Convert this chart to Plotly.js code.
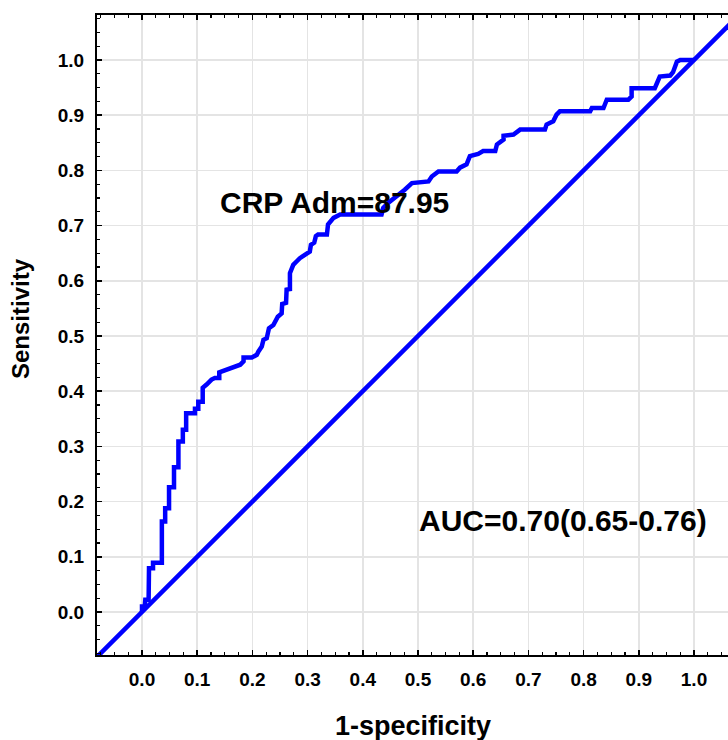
<!DOCTYPE html>
<html>
<head>
<meta charset="utf-8">
<script src="https://cdn.plot.ly/plotly-3.0.1.min.js"></script>
<style>html,body{margin:0;padding:0;background:#fff;}#chart{width:728px;height:740px;}</style>
</head>
<body>
<div id="chart"></div>
<script>
// ROC curve
const fpr = [0.0, 0.0, 0.005, 0.006, 0.012, 0.0127, 0.02, 0.02, 0.036, 0.036, 0.042, 0.042, 0.049, 0.049,
  0.058, 0.058, 0.066, 0.066, 0.074, 0.074, 0.08, 0.08, 0.096, 0.096, 0.102, 0.102, 0.11, 0.11, 0.117,
  0.126, 0.132, 0.14, 0.14, 0.153, 0.163, 0.171, 0.178, 0.184, 0.184, 0.199, 0.208, 0.211, 0.217, 0.22,
  0.226, 0.23, 0.238, 0.246, 0.253, 0.254, 0.261, 0.262, 0.268, 0.268, 0.274, 0.28, 0.286, 0.295, 0.304,
  0.306, 0.312, 0.315, 0.319, 0.335, 0.337, 0.347, 0.359, 0.434, 0.437, 0.447, 0.458, 0.467, 0.476,
  0.489, 0.519, 0.525, 0.537, 0.570, 0.576, 0.588, 0.594, 0.609, 0.618, 0.640, 0.643, 0.655, 0.655,
  0.673, 0.685, 0.730, 0.733, 0.745, 0.751, 0.757, 0.812, 0.815, 0.836, 0.842, 0.881, 0.887, 0.887,
  0.929, 0.938, 0.957, 0.962, 0.969, 0.975, 1.0];
const tpr = [0.0, 0.01, 0.01, 0.022, 0.022, 0.079, 0.079, 0.089, 0.089, 0.164, 0.164, 0.188, 0.188, 0.226,
  0.226, 0.262, 0.262, 0.309, 0.309, 0.33, 0.33, 0.36, 0.36, 0.368, 0.368, 0.381, 0.381, 0.406, 0.412,
  0.421, 0.424, 0.424, 0.434, 0.439, 0.442, 0.445, 0.448, 0.454, 0.461, 0.461, 0.466, 0.472, 0.481, 0.493,
  0.496, 0.514, 0.52, 0.535, 0.541, 0.558, 0.56, 0.584, 0.585, 0.614, 0.629, 0.635, 0.641, 0.647, 0.653,
  0.665, 0.669, 0.681, 0.684, 0.684, 0.702, 0.714, 0.72, 0.72, 0.732, 0.742, 0.75, 0.756, 0.765,
  0.777, 0.78, 0.789, 0.798, 0.798, 0.805, 0.811, 0.826, 0.830, 0.835, 0.835, 0.847, 0.856, 0.863,
  0.865, 0.874, 0.874, 0.883, 0.889, 0.901, 0.907, 0.907, 0.913, 0.913, 0.928, 0.928, 0.934, 0.949,
  0.949, 0.970, 0.972, 0.978, 0.997, 1.0, 1.0];
const diagX = [-0.1, 1.1];
const diagY = [-0.1, 1.1];
const tickVals = [0, 0.1, 0.2, 0.3, 0.4, 0.5, 0.6, 0.7, 0.8, 0.9, 1.0];
const tickText = ['0.0', '0.1', '0.2', '0.3', '0.4', '0.5', '0.6', '0.7', '0.8', '0.9', '1.0'];
const xTitle = '1-specificity';
const yTitle = 'Sensitivity';
const labelCRP = 'CRP Adm=87.95';
const labelAUC = 'AUC=0.70(0.65-0.76)';

const FONT = '"Liberation Sans", Arial, sans-serif';
const BLUE = '#0000ff';

const traces = [
  {x: diagX, y: diagY, mode: 'lines', line: {color: BLUE, width: 4.5}, hoverinfo: 'skip', showlegend: false},
  {x: fpr, y: tpr, mode: 'lines', line: {color: BLUE, width: 4.5}, showlegend: false}
];

function axis(extra) {
  return Object.assign({
    tickmode: 'array', tickvals: tickVals, ticktext: tickText,
    ticks: 'inside', ticklen: 5, tickwidth: 1.5, tickcolor: '#000',
    showline: true, linecolor: '#000', linewidth: 2,
    showgrid: true, gridcolor: '#e4e4e4', gridwidth: 1.5,
    zeroline: false,
    tickfont: {family: FONT, size: 19, color: '#000', weight: 'bold'},
    minor: {dtick: 0.025, tick0: 0, ticks: 'inside', ticklen: 3, tickwidth: 1.2, tickcolor: '#000', showgrid: false},
    fixedrange: true
  }, extra);
}

const layout = {
  width: 728, height: 740,
  margin: {l: 97, r: 0, t: 15, b: 85},
  paper_bgcolor: '#fff', plot_bgcolor: '#fff',
  showlegend: false,
  xaxis: axis({range: [-0.0815, 1.0616], mirror: 'ticks', ticklabelstandoff: 6}),
  yaxis: axis({range: [-0.078, 1.0816], mirror: false, ticklabelstandoff: 7}),
  annotations: [
    {text: labelCRP, x: 0.349, y: 0.742, xref: 'x', yref: 'y', showarrow: false,
     font: {family: FONT, size: 30, color: '#000', weight: 'bold'}, xanchor: 'center', yanchor: 'middle'},
    {text: labelAUC, x: 0.762, y: 0.165, xref: 'x', yref: 'y', showarrow: false,
     font: {family: FONT, size: 30, color: '#000', weight: 'bold'}, xanchor: 'center', yanchor: 'middle'},
    {text: yTitle, x: -0.122, y: 0.525, xref: 'paper', yref: 'paper', showarrow: false, textangle: -90,
     font: {family: FONT, size: 24, color: '#000', weight: 'bold'}, xanchor: 'center', yanchor: 'middle'},
    {text: xTitle, x: 0.5, y: -0.111, xref: 'paper', yref: 'paper', showarrow: false,
     font: {family: FONT, size: 27, color: '#000', weight: 'bold'}, xanchor: 'center', yanchor: 'middle'}
  ]
};

Plotly.newPlot('chart', traces, layout, {displayModeBar: false, staticPlot: true});
</script>
</body>
</html>
